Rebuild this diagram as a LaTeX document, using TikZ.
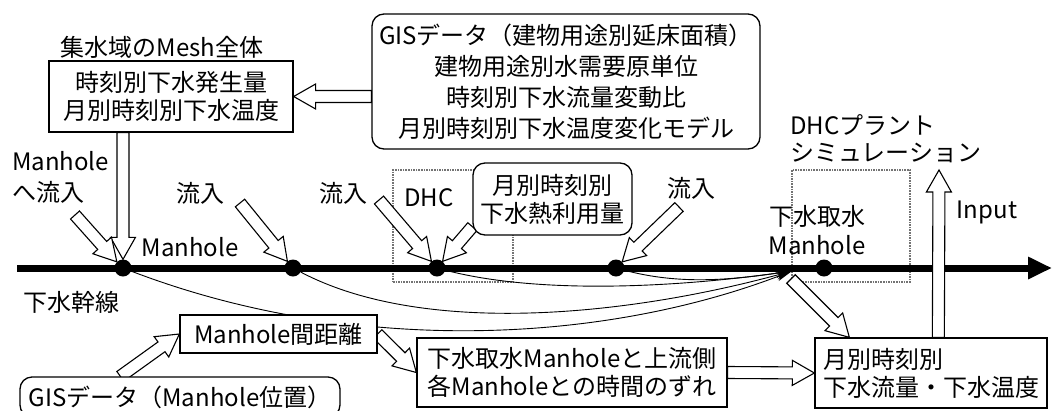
\documentclass[tikz,border=0pt]{standalone}
\usepackage{fontspec}
\setmainfont{Noto Sans CJK JP}
\usetikzlibrary{calc,arrows.meta}
\pgfdeclarelayer{back}
\pgfdeclarelayer{bg}
\pgfsetlayers{back,bg,main}
\newcommand{\dblarrow}[2]{%
  \coordinate (dahead) at ($(#2)!22pt!(#1)$);
  \draw[darr] ($(#1)!6pt!90:(#2)$) -- ($(dahead)!6pt!90:(#2)$) -- ($(dahead)!12.5pt!90:(#2)$) -- (#2) -- ($(dahead)!12.5pt!-90:(#2)$) -- ($(dahead)!6pt!-90:(#2)$) -- ($(#1)!6pt!-90:(#2)$) -- cycle;}
\begin{document}
\begin{tikzpicture}[x=1pt,y=-1pt,
  every node/.style={font=\fontsize{24}{28}\selectfont, inner sep=0pt},
  box/.style={draw, line width=1.3pt, fill=white, align=center},
  rbox/.style={box, rounded corners=12pt},
  mh/.style={circle, fill=black, minimum size=17pt, inner sep=0pt},
  darr/.style={draw=black, fill=white, line width=1.1pt, line join=miter},
  lagline/.style={line width=0.9pt, -{Stealth[length=16pt,width=9pt]}},
  dotbox/.style={draw=black!55, densely dotted, line width=1.6pt}]
\begin{pgfonlayer}{back}
\fill[white] (0,0) rectangle (1056,410);
\end{pgfonlayer}
\useasboundingbox (0,0) rectangle (1056,410);
\clip (0,0) rectangle (1056,410);

% boxes
\node[box, minimum width=244pt, minimum height=71pt] (mesh) at (171,96.5) {時刻別下水発生量\\月別時刻別下水温度};
\node[rbox, minimum width=388pt, minimum height=135pt, font=\fontsize{24}{31}\selectfont] (gis) at (566,81.5) {GISデータ（建物用途別延床面積）\\建物用途別水需要原単位\\時刻別下水流量変動比\\月別時刻別下水温度変化モデル};
\node[rbox, minimum width=159pt, minimum height=72pt] (heat) at (552.5,199) {月別時刻別\\下水熱利用量};
\node[box, minimum width=197pt, minimum height=38pt] (dist) at (278.5,334) {Manhole間距離};
\node[rbox, minimum width=320pt, minimum height=40pt] (gismh) at (180,397) {GISデータ（Manhole位置）};
\node[box, minimum width=310pt, minimum height=69pt] (lagbox) at (572,372.5) {下水取水Manholeと上流側\\各Manholeとの時間のずれ};
\node[box, minimum width=232pt, minimum height=70pt, align=left] (out) at (931,373) {月別時刻別\\下水流量・下水温度};

% manholes
\node[mh] (m1) at (123,268) {};
\node[mh] (m2) at (293,268) {};
\node[mh] (m3) at (437,268) {};
\node[mh] (m4) at (616,268) {};
\node[mh] (m5) at (824,268) {};

% labels
\node (meshlbl) at (162,47) {集水域のMesh全体};
\node[align=left, anchor=west, font=\fontsize{24}{31}\selectfont] (inflow0) at (12,177.5) {Manhole\\へ流入};
\node (mhlbl) at (190,247) {Manhole};
\node (in2) at (200,193) {流入};
\node (in3) at (343,193) {流入};
\node (dhc) at (429,198) {DHC};
\node (in4) at (691,188) {流入};
\node[align=center, font=\fontsize{24}{29}\selectfont] (intake) at (817,230.5) {下水取水\\Manhole};
\node[align=left, anchor=west, font=\fontsize{24}{27}\selectfont] (plant) at (790,138.5) {DHCプラント\\シミュレーション};
\node (input) at (987,212) {Input};
\node (trunk) at (71,302) {下水幹線};

% coordinates
\coordinate (mainL) at (17,268);
\coordinate (mainR) at (1052,268);
\coordinate (conv) at (792,271);
\coordinate (d1) at (791,279);
\coordinate (o1) at ($(out.north west)+(35,0)$);
\coordinate (o2) at ($(out.north west)+(124,0)$);
\coordinate (inp) at (939,170);
\coordinate (a0s) at (gis.west |- mesh.east);
\coordinate (a1s) at (m1 |- mesh.south);
\coordinate (f1) at (75,215);
\coordinate (f2) at (240,203);
\coordinate (f3) at (379,200);
\coordinate (f3b) at ($(heat.south west)+(0,-9)$);
\coordinate (f4) at (679,207);
\coordinate (g1) at ($(gismh.north west)+(101,0)$);

\begin{pgfonlayer}{bg}
\node[dotbox, minimum width=120pt, minimum height=112pt] (dhcbox) at (453,226) {};
\node[dotbox, minimum width=118pt, minimum height=112pt] (plantbox) at (851,226) {};
\dblarrow{d1}{o1}
\draw[line width=7pt, -{Triangle[length=24pt,width=21pt]}] (mainL) -- (mainR);
\draw[lagline] (m1) .. controls (350,355) and (600,345) .. (conv);
\draw[lagline] (m2) .. controls (420,335) and (620,318) .. (conv);
\draw[lagline] (m3) .. controls (540,295) and (680,287) .. (conv);
\draw[lagline] (m4) .. controls (680,285) and (730,280) .. (conv);
\dblarrow{a0s}{mesh.east}
\dblarrow{a1s}{m1.north}
\dblarrow{f1}{m1.135}
\dblarrow{f2}{m2.130}
\dblarrow{f3}{m3.130}
\dblarrow{f3b}{m3.50}
\dblarrow{f4}{m4.45}
\dblarrow{o2}{inp}
\dblarrow{g1}{dist.west}
\dblarrow{dist.east}{lagbox.west}
\dblarrow{lagbox.east}{out.west}
\end{pgfonlayer}
\end{tikzpicture}
\end{document}
